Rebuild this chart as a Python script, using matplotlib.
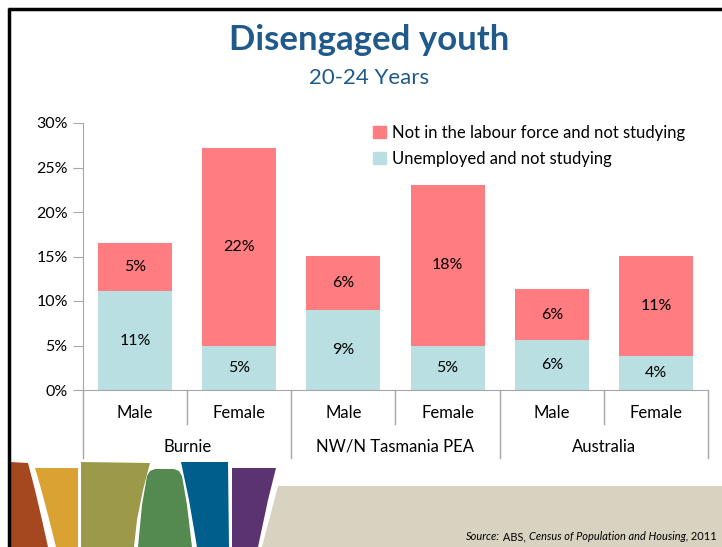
import matplotlib
matplotlib.use("Agg")
import matplotlib.pyplot as plt
from matplotlib.patches import Polygon, Patch
import matplotlib.transforms as mtransforms

plt.rcParams['font.family'] = ['Lato', 'DejaVu Sans']

# data (percent)
regions = ["Burnie", "NW/N Tasmania PEA", "Australia"]
sexes = ["Male", "Female"]
unemployed = [11.1, 5.0, 9.0, 5.0, 5.6, 3.8]
not_in_lf = [5.4, 22.2, 6.05, 18.0, 5.7, 11.25]
unemployed_labels = ["11%", "5%", "9%", "5%", "6%", "4%"]
not_in_lf_labels = ["5%", "22%", "6%", "18%", "6%", "11%"]
yticks = [0, 5, 10, 15, 20, 25, 30]

RED = "#FF7C80"
BLUE = "#B9DFE2"
TITLE = "#1F5A8A"
GRID = "#A6A6A6"

W, H = 722, 547
fig = plt.figure(figsize=(W / 100, H / 100), dpi=100)

# slide decoration in pixel coords
deco = fig.add_axes([0, 0, 1, 1], zorder=0)
deco.set_xlim(0, W); deco.set_ylim(H, 0); deco.axis('off')
shapes = [
    ("#A5471F", [(10, 462), (28, 463), (35, 490), (42, 520), (48, 547), (10, 547)]),
    ("#D9A233", [(35, 468), (78, 468), (78, 547), (56, 547), (48, 515), (40, 485)]),
    ("#9C9A49", [(81, 462), (150, 463), (143, 490), (137, 520), (134, 547), (81, 547)]),
    ("#548A50", [(147, 476), (150, 471), (155, 469), (174, 469), (179, 471), (182, 476),
                 (187, 505), (192, 547), (138, 547), (142, 505)]),
    ("#005E8C", [(181, 462), (228, 462), (229, 547), (197, 547), (189, 500)]),
    ("#5B3370", [(232, 468), (276, 468), (268, 500), (258, 547), (232, 547)]),
    ("#D8D3C1", [(278, 486), (722, 486), (722, 547), (262, 547)]),
]
for color, pts in shapes:
    deco.add_patch(Polygon(pts, closed=True, facecolor=color, edgecolor='none'))
deco.plot([9, 9], [8, H], color='black', lw=2.5, solid_capstyle='butt')
deco.plot([8, W], [8.5, 8.5], color='black', lw=2.5, solid_capstyle='butt')

# titles
fig.text(369 / W, 1 - 40 / H, "Disengaged youth", ha='center', va='center',
         fontsize=25, fontweight='bold', color=TITLE)
fig.text(369 / W, 1 - 78 / H, "20-24 Years", ha='center', va='center',
         fontsize=16, color=TITLE)

# main chart
ax = fig.add_axes([83 / W, 1 - 390 / H, (708 - 83) / W, (390 - 123) / H], zorder=1)
ax.patch.set_alpha(0)
x = list(range(len(unemployed)))
width = 0.71
ax.bar(x, unemployed, width, color=BLUE)
ax.bar(x, not_in_lf, width, bottom=unemployed, color=RED)

for i in x:
    ax.text(i, unemployed[i] / 2, unemployed_labels[i], ha='center', va='center', fontsize=11.5)
    ax.text(i, unemployed[i] + not_in_lf[i] / 2, not_in_lf_labels[i],
            ha='center', va='center', fontsize=11.5)

ax.set_xlim(-0.5, len(x) - 0.5)
ax.set_ylim(0, 30)
ax.set_yticks(yticks)
ax.set_yticklabels([f"{v}%" for v in yticks], fontsize=11.5)
ax.tick_params(axis='y', length=7, color=GRID, pad=4)
ax.set_xticks([])
for s in ('top', 'right'):
    ax.spines[s].set_visible(False)
for s in ('left', 'bottom'):
    ax.spines[s].set_color(GRID)

# two-level category axis
trans = mtransforms.blended_transform_factory(ax.transData, ax.transAxes)
ax_h = 390 - 123
for i in x:
    ax.text(i, -23 / ax_h, sexes[i % 2], transform=trans, ha='center', va='center', fontsize=12)
for g, name in enumerate(regions):
    ax.text(2 * g + 0.5, -57 / ax_h, name, transform=trans, ha='center', va='center', fontsize=12)
for k in range(len(x) + 1):
    bottom = -68 / ax_h if k % 2 == 0 else -34 / ax_h
    ax.plot([k - 0.5, k - 0.5], [0, bottom], transform=trans, color=GRID, lw=1, clip_on=False)

handles = [Patch(color=RED), Patch(color=BLUE)]
ax.legend(handles, ["Not in the labour force and not studying", "Unemployed and not studying"],
          loc='upper left', bbox_to_anchor=(358 / W, 1 - 110 / H), bbox_transform=fig.transFigure,
          frameon=False, fontsize=12, handlelength=0.75, handleheight=0.75,
          handletextpad=0.4, labelspacing=0.6)

# source line: pieces chained one after another
parts = [("Source:", 'italic'), (" ABS, ", 'normal'),
         ("Census of Population and Housing,", 'italic'), (" 2011", 'normal')]
prev = fig.text(466 / W, 1 - 537 / H, parts[0][0], fontsize=7.9, style=parts[0][1],
                va='center', ha='left', zorder=3)
for txt, st in parts[1:]:
    prev = deco.annotate(txt, xy=(1, 0.5), xycoords=prev, va='center', ha='left',
                         fontsize=7.9, style=st)

fig.savefig("out.png", dpi=100)
